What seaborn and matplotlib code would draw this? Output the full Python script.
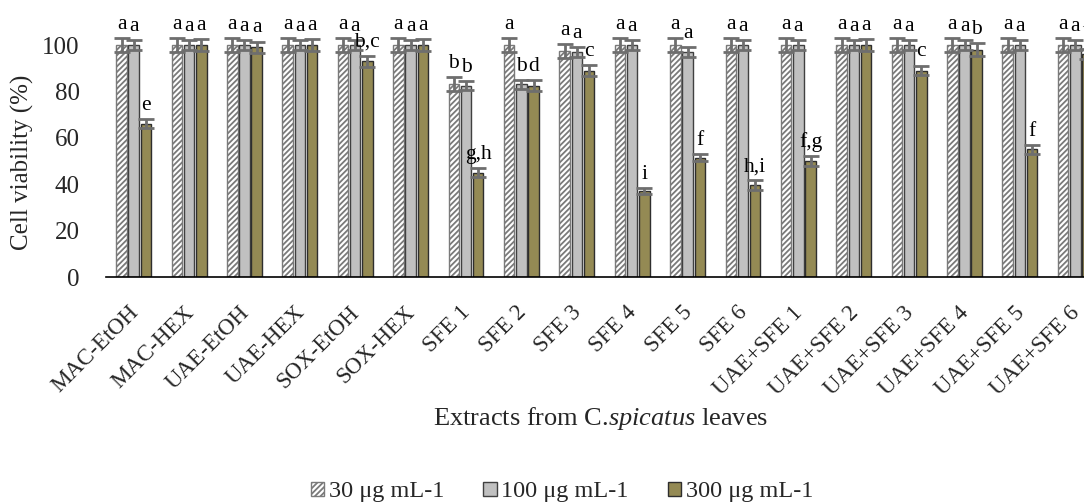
import matplotlib
matplotlib.use("Agg")
import matplotlib.pyplot as plt
import matplotlib.transforms as mtransforms
from matplotlib.patches import Patch
import numpy as np
import pandas as pd
import seaborn as sns

# Extracts and dose levels
extracts = ["MAC-EtOH", "MAC-HEX", "UAE-EtOH", "UAE-HEX", "SOX-EtOH", "SOX-HEX",
            "SFE 1", "SFE 2", "SFE 3", "SFE 4", "SFE 5", "SFE 6",
            "UAE+SFE 1", "UAE+SFE 2", "UAE+SFE 3", "UAE+SFE 4", "UAE+SFE 5", "UAE+SFE 6"]
doses = ["30 μg mL-1", "100 μg mL-1", "300 μg mL-1"]

# Cell viability (%) per dose
via_30 = [100, 100, 100, 100, 100, 100, 83, 100, 97.5, 100, 100, 100,
          100, 100, 100, 100, 100, 100]
via_100 = [100, 100, 100, 100, 100, 100, 82.5, 83, 97, 100, 97, 100,
           100, 100, 100, 100, 100, 100]
via_300 = [66, 100, 99, 100, 93, 100, 45, 82.5, 89, 37, 51.5, 39.5,
           50, 100, 89, 98, 55, 96]

# Standard deviations
sd_30 = [3] * 18
sd_100 = [2] * 18
sd_300 = [1.9, 2.6, 2.4, 2.6, 2.3, 2.6, 1.9, 2.5, 2.4, 1.4, 1.4, 2.1,
          2.1, 2.6, 2.1, 2.9, 1.9, 2.1]

# Significance letters
let_30 = ["a"] * 6 + ["b", "a", "a", "a", "a", "a"] + ["a"] * 6
let_100 = ["a"] * 6 + ["b", "b", "a", "a", "a", "a"] + ["a"] * 6
let_300 = ["e", "a", "a", "a", "b,c", "a", "g,h", "d", "c", "i", "f", "h,i",
           "f,g", "a", "c", "b", "f", "b"]

values = [via_30, via_100, via_300]
errors = [sd_30, sd_100, sd_300]
letters = [let_30, let_100, let_300]

df = pd.DataFrame({
    "extract": extracts * 3,
    "dose": [d for d in doses for _ in extracts],
    "viability": via_30 + via_100 + via_300,
})

sns.set_theme(style="white")
plt.rcParams["font.family"] = ["Liberation Serif", "DejaVu Serif"]
plt.rcParams["mathtext.fontset"] = "custom"
plt.rcParams["mathtext.rm"] = "Liberation Serif"
plt.rcParams["mathtext.it"] = "Liberation Serif:italic"
plt.rcParams["hatch.linewidth"] = 1.3

face = {doses[0]: "white", doses[1]: "#C0C0C0", doses[2]: "#948A54"}
edge = ["#7a7a7a", "#404040", "#2e2e2e"]

fig = plt.figure(figsize=(10.84, 5.03), dpi=100)
ax = fig.add_axes([106 / 1084, 1 - 277 / 503, 997 / 1084, 255.2 / 503])

sns.barplot(data=df, x="extract", y="viability", hue="dose", order=extracts,
            hue_order=doses, palette=face, saturation=1, width=0.66, gap=0.14,
            errorbar=None, legend=False, ax=ax)

bar_groups = list(ax.containers)[:3]
for i, cont in enumerate(bar_groups):
    for j, bar in enumerate(cont.patches):
        bar.set_edgecolor(edge[i])
        bar.set_linewidth(1.0)
        if i == 0:
            bar.set_hatch("//////")
        cx = bar.get_x() + bar.get_width() / 2
        v = values[i][j]
        e = errors[i][j]
        ax.errorbar(cx, v, yerr=e, fmt="none", ecolor="#6e6e6e", elinewidth=2,
                    capsize=6, capthick=2, zorder=5)
        ax.text(cx, v + e + 4.0, letters[i][j], ha="center", va="baseline",
                fontsize=15.5, color="black", zorder=6)

ax.set_xlim(-0.5, 17.5)
ax.set_ylim(0, 110)
ax.set_yticks([0, 20, 40, 60, 80, 100])
ax.tick_params(axis="y", labelsize=18, length=0, pad=19)
ax.tick_params(axis="x", labelsize=16.5, length=0, pad=18)
for s in ["top", "right", "left"]:
    ax.spines[s].set_visible(False)
ax.spines["bottom"].set_color("black")
ax.spines["bottom"].set_linewidth(1.2)

shift = mtransforms.ScaledTranslation(-6 / 100, 0, fig.dpi_scale_trans)
for lab in ax.get_xticklabels():
    lab.set_rotation(45)
    lab.set_ha("right")
    lab.set_va("top")
    lab.set_rotation_mode("anchor")
    lab.set_transform(lab.get_transform() + shift)

ax.set_xlabel("")
ax.set_ylabel("Cell viability (%)", fontsize=18)
ax.yaxis.set_label_coords(-72 / 997, 0.45)
fig.text(601 / 1084, 1 - 418 / 503, r"Extracts from C.$\mathit{spicatus}$ leaves",
         ha="center", va="center", fontsize=19)

handles = [
    Patch(facecolor="white", edgecolor=edge[0], hatch="//////", linewidth=1.0),
    Patch(facecolor="#C0C0C0", edgecolor=edge[1], linewidth=1.0),
    Patch(facecolor="#948A54", edgecolor=edge[2], linewidth=1.0),
]
fig.legend(handles, doses, loc="center", bbox_to_anchor=(562 / 1084, 1 - 492 / 503),
           ncol=3, frameon=False, fontsize=17.5, handlelength=0.55, handleheight=0.55,
           handletextpad=0.2, columnspacing=1.6, borderpad=0)

fig.savefig("out.png", dpi=100)
